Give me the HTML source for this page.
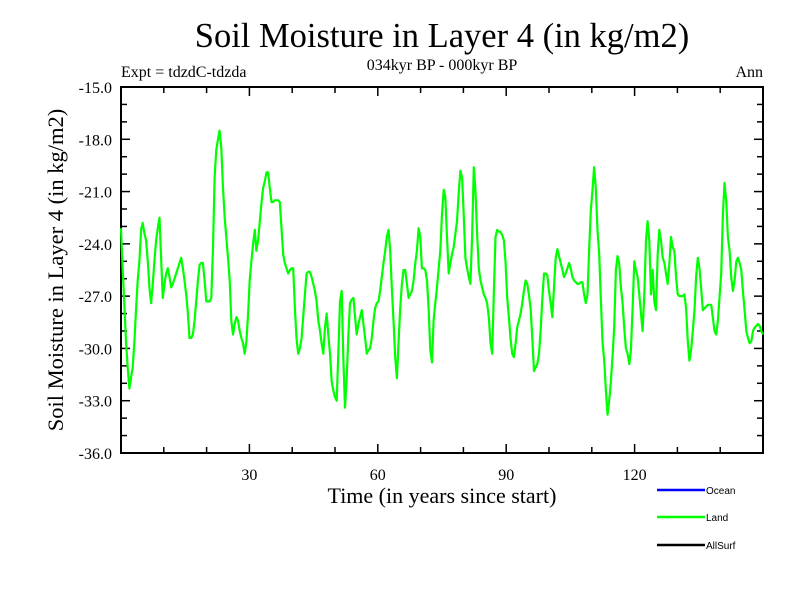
<!DOCTYPE html>
<html><head><meta charset="utf-8"><style>
html,body{margin:0;padding:0;background:#fff;}
svg{display:block;}
text{font-family:"Liberation Serif",serif;fill:#000;}
</style></head><body>
<svg id="chart" width="800" height="600" viewBox="0 0 800 600" xmlns="http://www.w3.org/2000/svg">
<rect width="800" height="600" fill="#fff"/>
<text x="442" y="47" font-size="34.5" text-anchor="middle">Soil Moisture in Layer 4 (in kg/m2)</text>
<text x="121" y="77" font-size="16">Expt = tdzdC-tdzda</text>
<text x="442" y="70" font-size="16" text-anchor="middle">034kyr BP - 000kyr BP</text>
<text x="763" y="77" font-size="16" text-anchor="end">Ann</text>
<text transform="translate(63,270) rotate(-90)" font-size="22.5" text-anchor="middle">Soil Moisture in Layer 4 (in kg/m2)</text>
<text x="442" y="503" font-size="22" text-anchor="middle">Time (in years since start)</text>
<g id="axes"></g>
<g id="series"></g>
<g>
 <g><line x1="657" y1="490" x2="705" y2="490" stroke="#0000ff" stroke-width="2.5"/><text x="706" y="494" font-size="10" style="font-family:'Liberation Sans',sans-serif">Ocean</text></g>
 <g><line x1="657" y1="517" x2="705" y2="517" stroke="#00ff00" stroke-width="2.5"/><text x="706" y="521" font-size="10" style="font-family:'Liberation Sans',sans-serif">Land</text></g>
 <g><line x1="657" y1="545" x2="705" y2="545" stroke="#000" stroke-width="2.5"/><text x="706" y="549" font-size="10" style="font-family:'Liberation Sans',sans-serif">AllSurf</text></g>
</g>
</svg>
<script>
const xTickValues = [30, 60, 90, 120];
const yTickValues = [-15, -18, -21, -24, -27, -30, -33, -36];
const yTickLabels = ["-15.0","-18.0","-21.0","-24.0","-27.0","-30.0","-33.0","-36.0"];
const timeStart = 0;
const timeStep = 25/64;
const landValues = [
-23.1,-25.5,-27.4,-29.6,-31.1,-32.3,-31.7,-31.1,-29.6,-27.8,-26.1,-25.0,-23.2,-22.8,-23.4,-23.8,-25.0,-26.5,-27.4,-26.3,
-25.0,-23.8,-23.1,-22.5,-24.8,-27.1,-26.3,-25.7,-25.4,-25.9,-26.5,-26.3,-26.0,-25.7,-25.4,-25.1,-24.8,-25.4,-26.1,-26.9,
-28.0,-29.4,-29.4,-29.2,-28.4,-27.3,-26.1,-25.2,-25.1,-25.1,-26.1,-27.3,-27.3,-27.3,-27.1,-24.2,-20.2,-18.6,-18.0,-17.5,
-18.5,-20.8,-22.5,-23.6,-24.8,-26.1,-28.4,-29.2,-28.6,-28.2,-28.4,-29.0,-29.4,-29.7,-30.3,-29.6,-28.0,-26.1,-25.0,-24.0,
-23.2,-24.4,-23.8,-22.7,-21.7,-20.8,-20.4,-19.9,-19.9,-20.8,-21.6,-21.6,-21.5,-21.5,-21.5,-21.6,-23.1,-24.6,-25.1,-25.4,
-25.7,-25.5,-25.4,-25.4,-27.7,-29.4,-30.3,-30.0,-29.4,-28.2,-26.9,-25.7,-25.6,-25.6,-25.9,-26.3,-26.7,-27.3,-28.4,-29.0,
-29.7,-30.3,-28.8,-28.0,-29.2,-30.3,-31.9,-32.4,-32.8,-33.0,-30.3,-27.3,-26.7,-30.7,-33.4,-31.7,-29.2,-27.4,-27.2,-27.1,
-28.2,-29.2,-28.6,-28.2,-27.8,-28.6,-29.4,-30.3,-30.1,-30.0,-29.4,-28.4,-27.7,-27.4,-27.3,-26.7,-25.9,-25.1,-24.4,-23.6,
-23.2,-24.4,-26.5,-28.4,-30.5,-31.7,-29.7,-27.7,-26.3,-25.5,-25.5,-26.3,-27.1,-26.9,-26.7,-26.1,-25.1,-24.4,-23.1,-23.6,
-25.4,-25.4,-25.5,-26.1,-27.7,-30.1,-30.8,-28.4,-27.4,-26.5,-25.4,-24.4,-22.3,-20.9,-21.3,-23.6,-25.7,-25.1,-24.6,-24.2,
-23.4,-22.7,-21.1,-19.8,-20.2,-22.3,-24.8,-25.4,-25.9,-26.3,-23.6,-19.6,-20.9,-23.4,-25.4,-26.1,-26.5,-26.9,-27.1,-27.4,
-28.2,-29.7,-30.3,-26.9,-23.6,-23.2,-23.3,-23.3,-23.5,-23.8,-25.0,-27.1,-28.2,-29.4,-30.3,-30.5,-29.7,-28.8,-28.4,-28.0,
-27.4,-26.7,-26.1,-26.3,-26.9,-27.7,-29.4,-31.3,-31.1,-30.9,-30.3,-29.0,-27.2,-25.7,-25.7,-25.8,-26.7,-27.4,-28.2,-26.5,
-24.8,-24.3,-24.7,-25.1,-25.5,-25.9,-25.7,-25.4,-25.1,-25.4,-25.9,-26.1,-26.2,-26.3,-26.3,-26.2,-26.2,-26.9,-27.4,-26.9,
-24.4,-22.1,-20.9,-19.6,-20.8,-23.2,-24.6,-27.1,-29.6,-30.7,-32.3,-33.8,-33.0,-31.9,-30.5,-28.8,-25.5,-24.7,-25.1,-26.5,
-27.4,-28.8,-30.0,-30.3,-30.9,-30.1,-27.7,-25.0,-25.5,-25.9,-26.9,-28.0,-29.0,-26.9,-23.8,-22.7,-23.8,-26.9,-25.5,-27.3,
-27.8,-24.6,-23.2,-23.8,-24.8,-25.1,-25.7,-26.3,-25.1,-23.6,-24.2,-24.4,-25.9,-26.9,-27.0,-27.0,-27.0,-26.9,-27.7,-29.6,
-30.7,-30.1,-29.0,-27.8,-25.9,-24.8,-25.4,-26.5,-27.8,-27.7,-27.6,-27.5,-27.5,-27.5,-28.2,-29.0,-29.2,-28.4,-27.1,-25.7,
-22.3,-20.5,-21.5,-23.6,-24.4,-25.9,-26.7,-26.1,-25.0,-24.8,-25.1,-25.5,-26.7,-27.8,-29.0,-29.4,-29.7,-29.6,-29.0,-28.8,
-28.7,-28.6,-28.7,-29.0,-29.2
];
const NS="http://www.w3.org/2000/svg";
const L=121,R=763,T=87,B=453;
const xMin=0,xMax=150,yMin=-36,yMax=-15;
function xs(v){return L+(v-xMin)/(xMax-xMin)*(R-L);}
function ys(v){return B-(v-yMin)/(yMax-yMin)*(B-T);}
function mk(tag,attrs,parent){const e=document.createElementNS(NS,tag);for(const k in attrs)e.setAttribute(k,attrs[k]);parent.appendChild(e);return e;}
const axes=document.getElementById('axes');
const frame=mk('rect',{x:L,y:T,width:R-L,height:B-T,fill:'none',stroke:'#000','stroke-width':2},axes);


for(let v=10;v<xMax;v+=10){
  const major=xTickValues.includes(v);
  const len=major?9:6;
  const t1=mk('line',{x1:xs(v),y1:B,x2:xs(v),y2:B-len,stroke:'#000','stroke-width':1.5},axes);
  
  
  const t2=mk('line',{x1:xs(v),y1:T,x2:xs(v),y2:T+len,stroke:'#000','stroke-width':1.5},axes);
  
  
}
xTickValues.forEach(v=>{
  const t=mk('text',{x:xs(v),y:480,'font-size':16,'text-anchor':'middle'},axes);
  t.textContent=String(v);
  
  
});
for(let v=yMin+1;v<yMax;v+=1){
  const major=yTickValues.includes(v);
  const len=major?9:6;
  const a=mk('line',{x1:L,y1:ys(v),x2:L+len,y2:ys(v),stroke:'#000','stroke-width':1.5},axes);
  
  
  const b=mk('line',{x1:R,y1:ys(v),x2:R-len,y2:ys(v),stroke:'#000','stroke-width':1.5},axes);
  
  
}
yTickValues.forEach((v,i)=>{
  const t=mk('text',{x:112,y:ys(v)+6,'font-size':16,'text-anchor':'end'},axes);
  t.textContent=yTickLabels[i];
  
  
});
const pts=landValues.map((v,i)=>xs(timeStart+i*timeStep).toFixed(1)+','+ys(v).toFixed(1)).join(' ');
const line=mk('polyline',{points:pts,fill:'none',stroke:'#00ff00','stroke-width':2.2,'stroke-linejoin':'round'},document.getElementById('series'));


</script>
</body></html>
